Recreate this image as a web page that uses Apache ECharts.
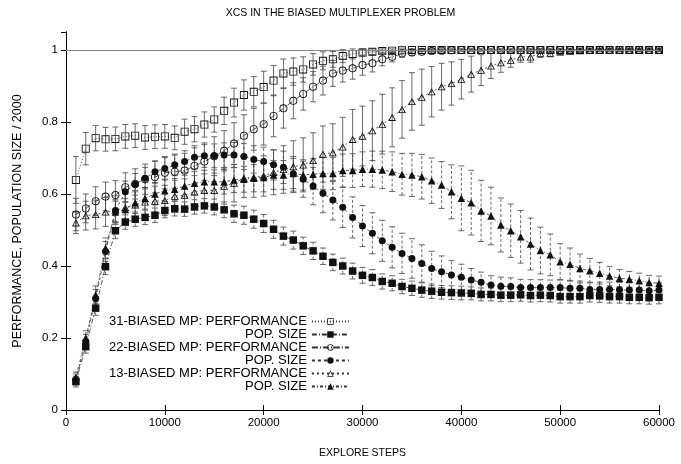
<!DOCTYPE html>
<html>
<head>
<meta charset="utf-8">
<title>XCS in the biased multiplexer problem</title>
<script src="https://cdn.jsdelivr.net/npm/echarts@6/dist/echarts.min.js"></script>
<style>
html, body { margin: 0; padding: 0; background: #fff; }
#chart { width: 681px; height: 464px; }
</style>
</head>
<body>
<div id="chart"></div>
<script>
// explore steps (x)
const steps = [1000,2000,3000,4000,5000,6000,7000,8000,9000,10000,
  11000,12000,13000,14000,15000,16000,17000,18000,19000,20000,
  21000,22000,23000,24000,25000,26000,27000,28000,29000,30000,
  31000,32000,33000,34000,35000,36000,37000,38000,39000,40000,
  41000,42000,43000,44000,45000,46000,47000,48000,49000,50000,
  51000,52000,53000,54000,55000,56000,57000,58000,59000,60000]

// 31-biased MP
const perf31 = [0.639,0.726,0.755,0.752,0.753,0.760,0.762,0.757,0.759,0.760,
  0.756,0.773,0.780,0.793,0.807,0.831,0.854,0.875,0.884,0.897,
  0.915,0.935,0.940,0.946,0.960,0.970,0.974,0.983,0.989,0.993,
  0.995,0.997,0.998,0.999,1,1,1,1,1,1,
  1,1,1,1,1,1,1,1,1,1,
  1,1,1,1,1,1,1,1,1,1]
const perf31Err = [0.065,0.045,0.035,0.033,0.033,0.033,0.033,0.033,0.033,0.033,
  0.033,0.035,0.035,0.035,0.035,0.038,0.040,0.042,0.042,0.044,
  0.042,0.040,0.038,0.035,0.030,0.025,0.022,0.018,0.014,0.010,
  0.008,0.006,0.005,0.004,0.003,0.003,0.003,0.003,0.003,0.003,
  0.003,0.003,0.003,0.003,0.003,0.003,0.003,0.003,0.003,0.003,
  0.003,0.003,0.003,0.003,0.003,0.003,0.003,0.003,0.003,0.003]
const pop31 = [0.079,0.176,0.283,0.398,0.498,0.522,0.530,0.535,0.541,0.554,
  0.559,0.558,0.564,0.567,0.564,0.556,0.545,0.541,0.530,0.518,
  0.502,0.483,0.472,0.456,0.442,0.427,0.410,0.400,0.386,0.374,
  0.368,0.357,0.352,0.343,0.338,0.333,0.330,0.327,0.326,0.325,
  0.324,0.321,0.321,0.319,0.319,0.320,0.318,0.319,0.318,0.315,
  0.315,0.315,0.318,0.317,0.315,0.315,0.313,0.313,0.312,0.313]
const pop31Err = [0.015,0.018,0.020,0.022,0.022,0.020,0.020,0.020,0.020,0.020,
  0.020,0.020,0.020,0.020,0.022,0.022,0.024,0.025,0.025,0.025,
  0.025,0.025,0.025,0.024,0.024,0.023,0.023,0.022,0.022,0.022,
  0.022,0.021,0.021,0.020,0.020,0.020,0.020,0.019,0.019,0.019,
  0.018,0.018,0.018,0.018,0.018,0.018,0.018,0.018,0.018,0.018,
  0.018,0.018,0.018,0.018,0.018,0.018,0.018,0.018,0.018,0.018]

// 22-biased MP
const perf22 = [0.543,0.560,0.580,0.593,0.597,0.619,0.628,0.641,0.647,0.659,
  0.662,0.665,0.678,0.690,0.705,0.720,0.740,0.762,0.780,0.794,
  0.817,0.838,0.859,0.878,0.898,0.915,0.935,0.943,0.949,0.958,
  0.963,0.974,0.981,0.990,0.993,0.995,0.997,0.998,0.999,1,
  1,1,1,1,1,1,1,1,1,1,
  1,1,1,1,1,1,1,1,1,1]
const perf22Err = [0.045,0.040,0.040,0.040,0.040,0.040,0.042,0.042,0.044,0.045,
  0.046,0.048,0.050,0.052,0.054,0.056,0.058,0.058,0.058,0.058,
  0.058,0.055,0.050,0.045,0.042,0.040,0.036,0.032,0.030,0.028,
  0.024,0.018,0.014,0.010,0.008,0.006,0.005,0.004,0.003,0.003,
  0.003,0.003,0.003,0.003,0.003,0.003,0.003,0.003,0.003,0.003,
  0.003,0.003,0.003,0.003,0.003,0.003,0.003,0.003,0.003,0.003]
const pop22 = [0.085,0.190,0.310,0.440,0.554,0.606,0.627,0.644,0.662,0.671,
  0.681,0.690,0.702,0.706,0.706,0.708,0.708,0.704,0.696,0.690,
  0.681,0.674,0.656,0.641,0.622,0.602,0.583,0.563,0.535,0.511,
  0.491,0.470,0.452,0.435,0.421,0.407,0.393,0.384,0.375,0.369,
  0.361,0.355,0.347,0.344,0.343,0.340,0.340,0.340,0.340,0.340,
  0.338,0.338,0.335,0.335,0.335,0.334,0.333,0.333,0.331,0.333]
const pop22Err = [0.015,0.020,0.025,0.028,0.030,0.030,0.030,0.030,0.030,0.030,
  0.030,0.030,0.032,0.032,0.033,0.034,0.035,0.036,0.038,0.040,
  0.042,0.045,0.048,0.050,0.052,0.054,0.055,0.056,0.057,0.057,
  0.057,0.057,0.057,0.056,0.055,0.052,0.048,0.044,0.040,0.036,
  0.032,0.028,0.026,0.025,0.024,0.023,0.022,0.022,0.021,0.021,
  0.020,0.020,0.020,0.020,0.020,0.020,0.020,0.020,0.020,0.020]

// 13-biased MP
const perf13 = [0.520,0.540,0.543,0.550,0.555,0.562,0.570,0.578,0.580,0.582,
  0.594,0.597,0.606,0.610,0.610,0.622,0.630,0.644,0.646,0.650,
  0.660,0.668,0.676,0.681,0.693,0.711,0.715,0.731,0.752,0.761,
  0.776,0.794,0.813,0.835,0.857,0.869,0.884,0.898,0.907,0.919,
  0.933,0.944,0.956,0.965,0.972,0.981,0.981,0.991,0.991,0.995,
  0.997,0.998,0.999,1,1,1,1,1,1,1]
const perf13Err = [0.030,0.040,0.040,0.040,0.040,0.040,0.040,0.040,0.042,0.042,
  0.044,0.045,0.045,0.046,0.048,0.050,0.052,0.054,0.055,0.056,
  0.062,0.066,0.072,0.075,0.077,0.078,0.080,0.082,0.083,0.083,
  0.083,0.083,0.082,0.080,0.080,0.078,0.070,0.065,0.060,0.055,
  0.050,0.043,0.035,0.027,0.020,0.015,0.015,0.012,0.010,0.008,
  0.006,0.005,0.004,0.003,0.003,0.003,0.003,0.003,0.003,0.003]
const pop13 = [0.090,0.200,0.320,0.450,0.550,0.557,0.576,0.588,0.600,0.609,
  0.613,0.622,0.630,0.634,0.634,0.634,0.639,0.641,0.644,0.646,
  0.653,0.653,0.657,0.653,0.655,0.657,0.657,0.665,0.665,0.669,
  0.669,0.667,0.662,0.655,0.653,0.648,0.637,0.625,0.606,0.588,
  0.576,0.553,0.539,0.514,0.498,0.481,0.461,0.443,0.431,0.412,
  0.405,0.393,0.387,0.380,0.372,0.366,0.363,0.359,0.354,0.352]
const pop13Err = [0.015,0.020,0.025,0.028,0.030,0.030,0.030,0.030,0.030,0.030,
  0.030,0.030,0.032,0.032,0.033,0.034,0.035,0.036,0.038,0.040,
  0.040,0.040,0.042,0.042,0.043,0.044,0.045,0.046,0.047,0.048,
  0.050,0.052,0.055,0.058,0.060,0.062,0.063,0.065,0.075,0.090,
  0.090,0.085,0.080,0.075,0.074,0.073,0.072,0.065,0.058,0.050,
  0.045,0.040,0.034,0.030,0.027,0.024,0.022,0.021,0.020,0.020]

const legendText = {
  p31: '31-BIASED MP: PERFORMANCE', s31: 'POP. SIZE',
  p22: '22-BIASED MP: PERFORMANCE', s22: 'POP. SIZE',
  p13: '13-BIASED MP: PERFORMANCE', s13: 'POP. SIZE'
}

const font = 'Liberation Sans, Arial, Helvetica, sans-serif'

// thin open markers (outer shape with a reversed inner hole)
const openSquare = 'path://M0,0H10V10H0Z M1.1,1.1V8.9H8.9V1.1Z'
const openCircle = 'path://M5,0A5,5,0,1,1,5,10A5,5,0,1,1,5,0Z M5,1.1A3.9,3.9,0,1,0,5,8.9A3.9,3.9,0,1,0,5,1.1Z'
const openTriangle = 'path://M5,0L10,9L0,9Z M5,2.2L1.8,8L8.2,8Z'

function errorBars(name, vals, errs, dashed) {
  return {
    type: 'custom',
    name: name + '-err',
    silent: true,
    z: 1,
    encode: { x: 0, y: [1, 2] },
    data: steps.map((s, i) => [s, vals[i] - errs[i], vals[i] + errs[i]]),
    renderItem(params, api) {
      const lo = api.coord([api.value(0), api.value(1)])
      const hi = api.coord([api.value(0), api.value(2)])
      const w = 3
      const cap = { stroke: '#444', lineWidth: 0.8 }
      return {
        type: 'group',
        children: [
          { type: 'line', shape: { x1: lo[0], y1: lo[1], x2: hi[0], y2: hi[1] },
            style: { stroke: '#444', lineWidth: 0.8, lineDash: dashed ? [3, 2] : null } },
          { type: 'line', shape: { x1: lo[0] - w, y1: lo[1], x2: lo[0] + w, y2: lo[1] }, style: cap },
          { type: 'line', shape: { x1: hi[0] - w, y1: hi[1], x2: hi[0] + w, y2: hi[1] }, style: cap }
        ]
      }
    }
  }
}

function line(name, vals, symbol, size, dash) {
  return {
    type: 'line',
    name: name,
    data: steps.map((s, i) => [s, vals[i]]),
    symbol: symbol,
    symbolSize: size,
    symbolKeepAspect: true,
    showSymbol: true,
    z: 3,
    lineStyle: { color: '#333', width: 0.8, type: dash },
    itemStyle: { color: '#111', borderWidth: 0 },
    emphasis: { disabled: true }
  }
}

const series = [
  errorBars('p31', perf31, perf31Err, false),
  errorBars('s31', pop31, pop31Err, true),
  errorBars('p22', perf22, perf22Err, false),
  errorBars('s22', pop22, pop22Err, true),
  errorBars('p13', perf13, perf13Err, false),
  errorBars('s13', pop13, pop13Err, true),
  line('p31', perf31, openSquare, 8, [1, 2]),
  line('s31', pop31, 'rect', 7.5, [5, 2, 1, 2]),
  line('p22', perf22, openCircle, 8, [6, 2, 1, 2]),
  line('s22', pop22, 'circle', 7, [3, 3]),
  line('p13', perf13, openTriangle, 8, [2, 3]),
  line('s13', pop13, 'triangle', 7.5, [3, 2, 1, 2])
]

// horizontal reference at 1
series[6].markLine = {
  silent: true,
  symbol: 'none',
  label: { show: false },
  lineStyle: { color: '#888', type: 'solid', width: 1 },
  data: [{ yAxis: 1 }]
}

const axisCommon = {
  axisLine: { show: true, lineStyle: { color: '#000', width: 1 } },
  axisTick: { show: true, inside: true, length: 5, lineStyle: { color: '#000' } },
  splitLine: { show: false }
}

let chart = echarts.init(document.getElementById('chart'))
chart.setOption({
  animation: false,
  backgroundColor: '#fff',
  textStyle: { fontFamily: font },
  title: {
    text: 'XCS IN THE BIASED MULTIPLEXER PROBLEM',
    left: 'center',
    top: 3,
    textStyle: { fontSize: 10.5, fontWeight: 'normal', color: '#000', fontFamily: font }
  },
  grid: { left: 66, right: 22, top: 32, bottom: 54 },
  legend: {
    data: ['p31', 's31', 'p22', 's22', 'p13', 's13'],
    orient: 'vertical',
    align: 'right',
    left: 104,
    top: 310,
    itemWidth: 37,
    itemHeight: 8,
    itemGap: 0,
    selectedMode: false,
    formatter: n => legendText[n],
    textStyle: { fontSize: 13, color: '#000', fontFamily: font }
  },
  xAxis: [
    Object.assign({
      type: 'value', min: 0, max: 60000, interval: 10000, position: 'bottom',
      name: 'EXPLORE STEPS', nameLocation: 'middle', nameGap: 38,
      nameTextStyle: { fontSize: 10.5, color: '#000', fontFamily: font },
      axisLabel: { color: '#000', fontSize: 11.5, margin: 7, formatter: v => String(v) }
    }, axisCommon),
    Object.assign({
      type: 'value', min: 0, max: 60000, interval: 10000, position: 'top',
      axisLabel: { show: false }
    }, axisCommon)
  ],
  yAxis: [
    Object.assign({
      type: 'value', min: 0, max: 1.05, interval: 0.2, position: 'left',
      name: 'PERFORMANCE, POPULATION SIZE / 2000', nameLocation: 'middle', nameGap: 42,
      nameRotate: 90,
      nameTextStyle: { fontSize: 12.5, color: '#000', fontFamily: font },
      axisLabel: { color: '#000', fontSize: 11.5, margin: 8, showMaxLabel: false }
    }, axisCommon),
    Object.assign({
      type: 'value', min: 0, max: 1.05, interval: 0.2, position: 'right',
      axisLabel: { show: false }
    }, axisCommon)
  ],
  series: series
})
</script>
</body>
</html>
